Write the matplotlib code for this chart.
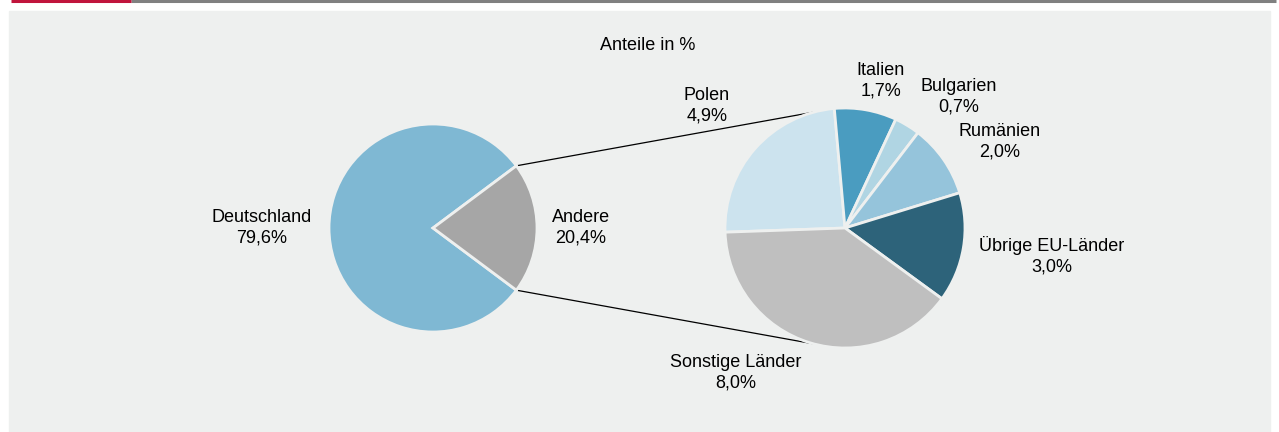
import matplotlib.pyplot as plt
import numpy as np

plt.rcParams['font.family'] = ['Liberation Sans', 'DejaVu Sans']

# left pie
main_labels = ["Deutschland", "Andere"]
main_values = [79.6, 20.4]
main_colors = ["#7fb8d3", "#a6a6a6"]

# breakdown of "Andere"
sub_labels = ["Polen", "Italien", "Bulgarien", "Rumänien", "Übrige EU-Länder", "Sonstige Länder"]
sub_values = [4.9, 1.7, 0.7, 2.0, 3.0, 8.0]
sub_colors = ["#cce3ee", "#4a9cc0", "#b0d5e3", "#95c4db", "#2d637a", "#bfbfbf"]

W, H = 1279, 432
bg = "#eef0ef"
fig = plt.figure(figsize=(W / 100, H / 100), dpi=100)
fig.patch.set_facecolor("white")
ax = fig.add_axes([0, 0, 1, 1])
ax.set_xlim(0, W)
ax.set_ylim(0, H)
ax.set_aspect("equal")
ax.axis("off")

def py(y):
    return H - y

# panel and top rule
ax.add_patch(plt.Rectangle((9, 0), 1261, py(11), color=bg, zorder=0))
ax.plot([131, 1276], [py(1), py(1)], color="#808080", lw=2.2, solid_capstyle="butt")
ax.plot([11, 131], [py(1), py(1)], color="#c0143c", lw=2.2, solid_capstyle="butt")

c1 = (433, py(228))
r1 = 104
andere_angle = main_values[1] / sum(main_values) * 360
ax.pie(main_values, colors=main_colors, center=c1, radius=r1,
       startangle=-andere_angle / 2, counterclock=False,
       wedgeprops=dict(edgecolor=bg, linewidth=2))

c2 = (845, py(228))
r2 = 120
ax.pie(sub_values, colors=sub_colors, center=c2, radius=r2,
       startangle=182, counterclock=False,
       wedgeprops=dict(edgecolor=bg, linewidth=2))

# connector lines
for sgn in (1, -1):
    a1 = np.radians(sgn * andere_angle / 2)
    a2 = np.radians(sgn * 105)
    ax.plot([c1[0] + r1 * np.cos(a1), c2[0] + r2 * np.cos(a2)],
            [c1[1] + r1 * np.sin(a1), c2[1] + r2 * np.sin(a2)],
            color="black", lw=0.9, zorder=0.5)

ax.set_xlim(0, W)
ax.set_ylim(0, H)

fs = 13
ax.text(648, py(45), "Anteile in %", ha="center", va="center", fontsize=fs)

def fmt(v):
    return f"{v:.1f}%".replace(".", ",")

main_pos = [(262, 228), (581, 228)]
for lab, v, (x, y) in zip(main_labels, main_values, main_pos):
    ax.text(x, py(y), f"{lab}\n{fmt(v)}", ha="center", va="center",
            fontsize=fs, linespacing=1.25)

sub_pos = [(707, 106), (881, 81), (959, 97), (1000, 142), (1052, 256), (736, 373)]
for lab, v, (x, y) in zip(sub_labels, sub_values, sub_pos):
    ax.text(x, py(y), f"{lab}\n{fmt(v)}", ha="center", va="center",
            fontsize=fs, linespacing=1.25)

fig.savefig("out.png", dpi=100)
